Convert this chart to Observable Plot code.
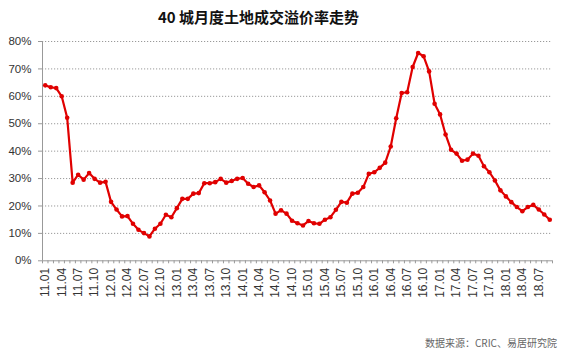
<!DOCTYPE html>
<html>
<head>
<meta charset="utf-8">
<script src="https://cdn.jsdelivr.net/npm/d3@7"></script>
<script src="https://cdn.jsdelivr.net/npm/@observablehq/plot@0.6"></script>
<style>
  html, body { margin: 0; padding: 0; background: #fff; }
  #wrap { position: relative; width: 562px; height: 352px; overflow: hidden; background: #fff; }
  #title { position: absolute; left: 0; width: 517px; top: 6px; text-align: center;
           font-family: "Noto Sans CJK SC", sans-serif; font-weight: bold; font-size: 15px; color: #111; }
  #caption { position: absolute; right: 5px; top: 335px;
             font-family: "Noto Sans CJK SC", sans-serif; font-size: 10px; color: #666; }
  #chart { position: absolute; left: 0; top: 0; }
</style>
</head>
<body>
<div id="wrap">
  <div id="chart"></div>
  <div id="title">40 城月度土地成交溢价率走势</div>
  <div id="caption">数据来源：CRIC、易居研究院</div>
</div>
<script>
// Categories: months 2011.01 – 2018.09
const years = ["11", "12", "13", "14", "15", "16", "17", "18"];
const monthNums = ["01","02","03","04","05","06","07","08","09","10","11","12"];
const months = [];
for (const y of years) for (const m of monthNums) months.push(y + "." + m);
months.length = 93; // through 18.09

// Premium rate (%) per month
const premium = [
  64.0, 63.3, 63.0, 60.0, 52.2, 28.5, 31.4, 29.6, 32.0, 29.9, 28.5, 28.8,
  21.5, 18.7, 16.2, 16.3, 13.5, 11.3, 10.1, 8.9, 11.7, 13.5, 16.8, 15.9,
  19.2, 22.6, 22.6, 24.5, 24.7, 28.3, 28.3, 28.7, 29.9, 28.5, 29.1, 29.9,
  30.2, 28.1, 26.9, 27.5, 25.0, 22.0, 17.2, 18.4, 17.2, 14.6, 13.7, 12.9,
  14.5, 13.7, 13.5, 15.0, 15.9, 18.6, 21.5, 21.2, 24.5, 24.8, 26.9, 31.7,
  32.3, 33.9, 35.8, 41.7, 52.0, 61.2, 61.5, 70.7, 75.8, 74.6, 69.1, 57.3,
  53.4, 46.1, 40.5, 39.1, 36.5, 36.9, 39.1, 38.3, 34.5, 32.3, 29.3, 25.7,
  23.5, 21.4, 19.6, 18.1, 19.6, 20.4, 18.7, 16.9, 15.0
];

// X tick labels (every third month)
const tickLabels = ["11.01","11.04","11.07","11.10","12.01","12.04","12.07","12.10",
  "13.01","13.04","13.07","13.10","14.01","14.04","14.07","14.10",
  "15.01","15.04","15.07","15.10","16.01","16.04","16.07","16.10",
  "17.01","17.04","17.07","17.10","18.01","18.04","18.07"];
const yTicks = [0, 10, 20, 30, 40, 50, 60, 70, 80];

const data = premium.map((v, i) => ({i, month: months[i], v}));
const labelIdx = tickLabels.map(l => months.indexOf(l));
const boundaries = d3.range(0, months.length + 1).map(k => k - 0.5);

const font = "'Liberation Sans', Arial, sans-serif";
const chart = Plot.plot({
  width: 562,
  height: 352,
  marginTop: 41,
  marginBottom: 91.7,
  marginLeft: 42,
  marginRight: 10,
  style: {fontFamily: font, fontSize: "11px", color: "#333", background: "transparent"},
  x: {type: "linear", domain: [-0.5, months.length - 0.5], label: null},
  y: {domain: [0, 80], label: null},
  marks: [
    Plot.gridY(yTicks.filter(d => d > 0), {stroke: "#9a9a9a", strokeOpacity: 1, strokeDasharray: "1.2,1.8", strokeWidth: 1}),
    Plot.axisY(yTicks, {label: null, tickSize: 4, tickPadding: 7, stroke: "#999", tickFormat: d => d + "%", fill: "#333", fontSize: 11.5}),
    Plot.axisX(boundaries, {label: null, tickSize: 3, tickFormat: () => "", stroke: "#999"}),
    Plot.axisX(labelIdx, {label: null, tickSize: 0, tickPadding: 7, tickRotate: -90, tickFormat: i => months[i], fill: "#333", fontSize: 12}),
    Plot.ruleY([0], {stroke: "#999"}),
    Plot.ruleX([-0.5], {stroke: "#999"}),
    Plot.lineY(data, {x: "i", y: "v", stroke: "#e00000", strokeWidth: 2.2}),
    Plot.dot(data, {x: "i", y: "v", r: 2.3, fill: "#e00000", stroke: "none"})
  ]
});
document.getElementById("chart").appendChild(chart);
</script>
</body>
</html>
